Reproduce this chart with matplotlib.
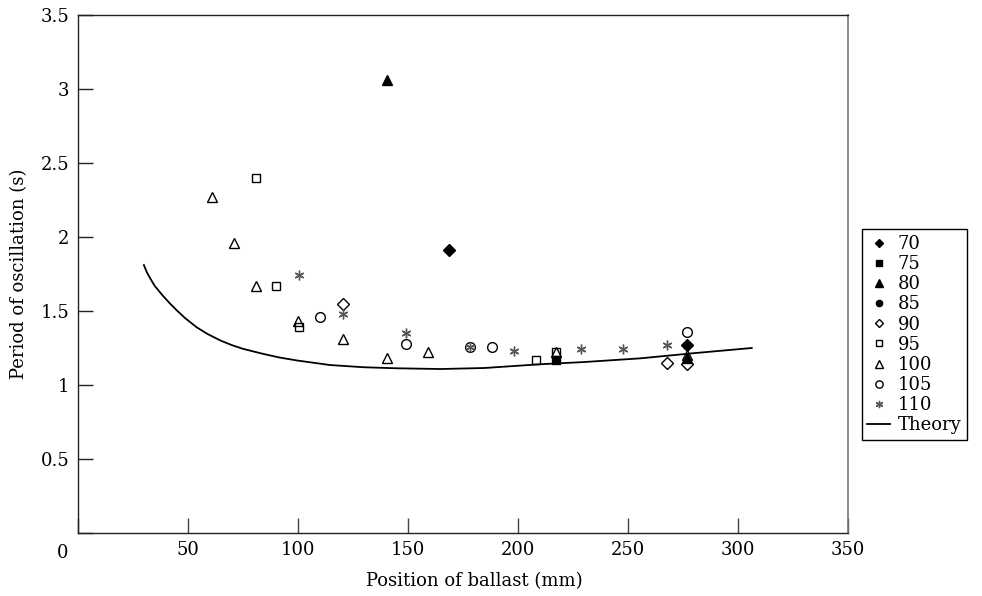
import matplotlib
matplotlib.use("Agg")
import matplotlib.pyplot as plt

plt.rcParams['font.family'] = ['DejaVu Serif']
plt.rcParams['font.size'] = 13

# measured points, one list pair per ballast mass
x70 = [169.0, 277.0]
y70 = [1.91, 1.27]
x75 = [217.2]
y75 = [1.17]
x80 = [140.6, 277.0]
y80 = [3.06, 1.18]
x85 = []
y85 = []
x90 = [120.7, 267.7, 277.0]
y90 = [1.55, 1.15, 1.14]
x95 = [81.1, 90.3, 100.4, 208.5, 217.2]
y95 = [2.40, 1.67, 1.39, 1.17, 1.22]
x100 = [61.2, 71.2, 81.2, 100.3, 120.4, 140.4, 159.4, 217.2, 277.0]
y100 = [2.27, 1.96, 1.67, 1.43, 1.31, 1.18, 1.22, 1.22, 1.20]
x105 = [110.1, 149.2, 178.3, 188.5, 277.0]
y105 = [1.46, 1.28, 1.26, 1.26, 1.36]
x110 = [100.6, 120.4, 149.2, 178.3, 198.3, 228.8, 248.0, 267.7]
y110 = [1.74, 1.48, 1.35, 1.26, 1.23, 1.24, 1.24, 1.27]

# theory curve
x_th = [30.1, 31.5, 33.0, 35.0, 38.9, 42.0, 45.0, 49.0, 54.1, 59.0, 65.0, 70.0,
        75.0, 84.4, 92.0, 100.0, 114.7, 130.0, 145.0, 165.0, 185.0, 210.0,
        230.0, 255.6, 280.0, 306.4]
y_th = [1.81, 1.76, 1.72, 1.67, 1.60, 1.55, 1.505, 1.45, 1.39, 1.345, 1.30, 1.27,
        1.245, 1.21, 1.185, 1.165, 1.135, 1.12, 1.113, 1.108, 1.115, 1.14,
        1.155, 1.18, 1.215, 1.25]

xticks = [0, 50, 100, 150, 200, 250, 300, 350]
yticks = [0, 0.5, 1, 1.5, 2, 2.5, 3, 3.5]

fig = plt.figure(figsize=(9.82, 5.96), dpi=100)
ax = fig.add_axes([0.0791, 0.1057, 0.7841, 0.8691])

star = (6, 2, 0)
ax.plot(x_th, y_th, color='k', lw=1.3, label='Theory', zorder=2)
ax.plot(x70, y70, 'D', ms=6, mfc='k', mec='k', ls='none', label='70')
ax.plot(x75, y75, 's', ms=6, mfc='k', mec='k', ls='none', label='75')
ax.plot(x80, y80, '^', ms=7, mfc='k', mec='k', ls='none', label='80')
ax.plot(x85, y85, 'o', ms=6, mfc='k', mec='k', ls='none', label='85')
ax.plot(x90, y90, 'D', ms=6, mfc='none', mec='k', mew=1, ls='none', label='90')
ax.plot(x95, y95, 's', ms=6, mfc='none', mec='k', mew=1, ls='none', label='95')
ax.plot(x100, y100, '^', ms=7, mfc='none', mec='k', mew=1, ls='none', label='100')
ax.plot(x105, y105, 'o', ms=7, mfc='none', mec='k', mew=1, ls='none', label='105')
ax.plot(x110, y110, marker=star, ms=7, color='#555555', mew=1, ls='none', label='110')

ax.set_xlim(0, 350)
ax.set_ylim(0, 3.5)
ax.set_xticks(xticks)
ax.set_yticks(yticks)
ax.set_xticklabels([''] + [str(t) for t in xticks[1:]])
ax.set_yticklabels([''] + ['0.5', '1', '1.5', '2', '2.5', '3', '3.5'])
ax.tick_params(axis='x', direction='in', length=11, width=1, pad=6, color='#444444')
ax.tick_params(axis='y', direction='in', length=11, width=1, pad=6, color='#222222')
ax.text(-0.019, -0.038, '0', transform=ax.transAxes, ha='center', va='center')

for s in ['left', 'bottom', 'top']:
    ax.spines[s].set_color('#222222')
    ax.spines[s].set_linewidth(1)
ax.spines['right'].set_color('#777777')
ax.spines['right'].set_linewidth(1.2)

ax.set_xlabel('Position of ballast (mm)')
ax.xaxis.set_label_coords(0.515, -0.076)
ax.set_ylabel('Period of oscillation (s)')
ax.yaxis.set_label_coords(-0.064, 0.5)

h, l = ax.get_legend_handles_labels()
order = [1, 2, 3, 4, 5, 6, 7, 8, 9, 0]
leg = ax.legend([h[i] for i in order], [l[i] for i in order],
                loc='upper left', bbox_to_anchor=(1.018, 0.586),
                frameon=True, fancybox=False, edgecolor='k', framealpha=1,
                markerscale=0.75, handlelength=1.3, handletextpad=0.4,
                labelspacing=0.12, borderpad=0.3, borderaxespad=0)
leg.get_frame().set_linewidth(1)

fig.savefig('out.png', dpi=100)
